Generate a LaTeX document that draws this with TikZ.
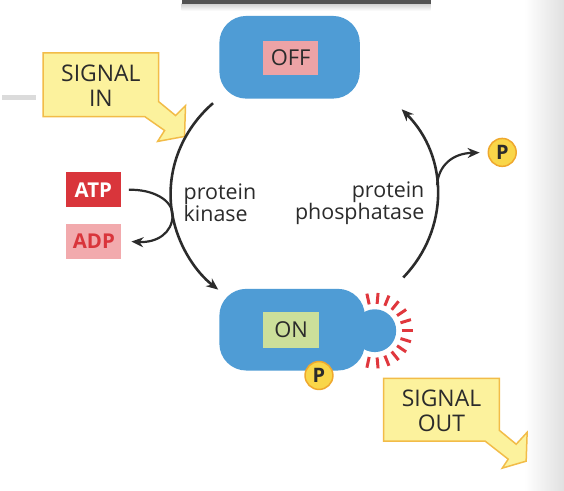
\documentclass[tikz,border=0pt]{standalone}
\usepackage{fontspec}
\setmainfont{Open Sans}
\usetikzlibrary{arrows.meta}
\definecolor{protblue}{HTML}{4F9CD5}
\definecolor{offpink}{HTML}{EDA3A6}
\definecolor{ongreen}{HTML}{CCDF9A}
\definecolor{atpred}{HTML}{D9353B}
\definecolor{adppink}{HTML}{F2AAAD}
\definecolor{sigfill}{HTML}{FCF29D}
\definecolor{sigline}{HTML}{F2BC48}
\definecolor{pfill}{HTML}{F9D649}
\definecolor{pline}{HTML}{EFA82E}
\definecolor{txt}{HTML}{2B2B2B}
\definecolor{raycol}{HTML}{E0373D}
\begin{document}
\begin{tikzpicture}[x=1pt,y=-1pt,
  prot/.style={fill=protblue,rounded corners=27pt,minimum width=141pt,minimum height=83pt},
  tag/.style={inner sep=0pt,text=txt,font=\fontsize{22}{26}\selectfont},
  nucl/.style={inner sep=0pt,minimum width=55pt,minimum height=35pt,font=\bfseries\fontsize{20.5}{24}\selectfont},
  phos/.style={circle,fill=pfill,draw=pline,line width=1.5pt,minimum size=28pt,inner sep=0pt,text=txt,font=\bfseries\fontsize{20}{24}\selectfont},
  callout/.style={fill=sigfill,draw=sigline,line width=1.5pt,line join=miter},
  sigtext/.style={align=center,text=txt,font=\fontsize{23}{25}\selectfont},
  enz/.style={align=#1,inner sep=0pt,text=txt,font=\fontsize{21.5}{22}\selectfont},
  cyc/.style={draw=txt,line width=2.6pt,-{Stealth[length=12pt,width=10pt]}},
  ray/.style={draw=raycol,line width=3pt}]
\fill[white] (0,0) rectangle (564,492);
\shade[left color=white,right color=black!12] (524,0) rectangle (564,492);
\shade[top color=black!18,bottom color=white] (180,4) rectangle (430,11);
\fill[black!68] (180,0) rectangle (430,4);
\draw[black!14,line width=4.5pt] (0,98) -- (34,98);
\node[prot] (off) at (288.5,57.5) {};
\node[tag,fill=offpink,minimum width=55pt,minimum height=34pt] (offlbl) at (289.5,58) {OFF};
\node[prot,minimum width=146pt,minimum height=82pt] (on) at (291,331) {};
\node[circle,fill=protblue,minimum size=43pt,inner sep=0pt] (knob) at (374,332) {};
\foreach \a in {-102,-85,...,102}
  \draw[ray] ([shift={(\a:27)}]knob.center) -- ([shift={(\a:38)}]knob.center);
\node[tag,fill=ongreen,minimum width=56pt,minimum height=36pt] (onlbl) at (290,331) {ON};
\node[phos] (pon) at (318,377) {P};
\node[phos] (pfree) at (502,153) {P};
\node[nucl,fill=atpred,text=white] (atp) at (91.5,190.5) {ATP};
\node[nucl,fill=adppink,text=atpred] (adp) at (92,242.5) {ADP};
\draw[callout] (41,53) -- (157,53) -- (157,102) -- (174,116) -- (184,106) -- (183,137) -- (156,142) -- (163,131) -- (143,117) -- (41,117) -- cycle;
\node[sigtext] (sigin) at (99,86) {SIGNAL\\IN};
\draw[callout] (383,380) -- (499,380) -- (499,432) -- (516,446) -- (527,434) -- (526,463) -- (502,470) -- (508,461) -- (485,443) -- (383,443) -- cycle;
\node[sigtext] (sigout) at (441,412) {SIGNAL\\OUT};
\node[enz=left,anchor=west] (kinase) at (182,204) {protein\\kinase};
\node[enz=right,anchor=east] (phosphatase) at (424,204) {protein\\phosphatase};
\coordinate (kintop) at (211.6,103.6);
\coordinate (phosbot) at (402.6,278.6);
\coordinate (branch) at (436.5,186);
\draw[cyc] (kintop) arc[start angle=-133,end angle=-230,x radius=134,y radius=125];
\draw[cyc] (phosbot) arc[start angle=42,end angle=-43,x radius=134,y radius=125];
\draw[cyc,line width=2.2pt,shorten >=8pt] (branch) .. controls (438,166) and (452,154) .. (pfree.west);
\draw[cyc,line width=2.2pt] ([xshift=8pt]atp.east) .. controls (150,190) and (171,200) .. (171,216)
  .. controls (171,234) and (155,244) .. ([xshift=10pt]adp.east);
\end{tikzpicture}
\end{document}
